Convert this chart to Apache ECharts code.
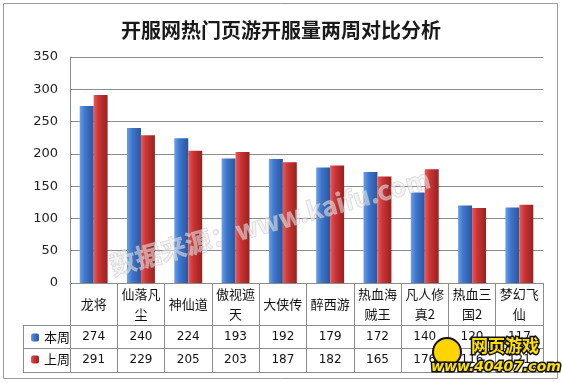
<!DOCTYPE html>
<html><head><meta charset="utf-8">
<script src="https://cdn.jsdelivr.net/npm/echarts@6/dist/echarts.min.js"></script>
<style>html,body{margin:0;padding:0;background:#fff}#c{width:562px;height:383px}</style>
</head><body><div id="c"></div>
<script>
const title = '开服网热门页游开服量两周对比分析';
const categories = ['龙将','仙落凡尘','神仙道','傲视遮天','大侠传','醉西游','热血海贼王','凡人修真2','热血三国2','梦幻飞仙'];
const seriesNames = ['本周','上周'];
const thisWeek = [274,240,224,193,192,179,172,140,120,117];
const lastWeek = [291,229,205,203,187,182,165,176,116,121];
const yMin = 0, yMax = 350, yStep = 50;

const chart = echarts.init(document.getElementById('c'));
const G = echarts.graphic;
const blueGrad = new G.LinearGradient(0,0,1,0,[{offset:0,color:'#6d9fe6'},{offset:0.35,color:'#3f78cf'},{offset:1,color:'#2a559e'}]);
const redGrad = new G.LinearGradient(0,0,1,0,[{offset:0,color:'#e65a58'},{offset:0.35,color:'#cc3535'},{offset:1,color:'#9a2020'}]);
const gridColor = '#8c8c8c';
function wrap3(s){ let out=[]; for(let i=0;i<s.length;i+=3) out.push(s.slice(i,i+3)); return out.join('\n'); }
const numFont = {fontSize:12, color:'#111', fontFamily:'DejaVu Sans'};

chart.setOption({
  backgroundColor:'#fff',
  animation:false,
  title:{text:title,left:'center',top:15,textStyle:{fontSize:20,fontWeight:'bold',color:'#1a1a1a',fontFamily:'Noto Sans CJK SC'}},
  legend:{orient:'vertical',left:26,top:326,itemWidth:8,itemHeight:8,itemGap:9,
    textStyle:{fontSize:13,color:'#111',fontFamily:'Noto Sans CJK SC'},data:seriesNames},
  grid:{left:70,right:19,top:57,bottom:100},
  xAxis:[
    {type:'category',data:categories,position:'bottom',
     axisLine:{show:true,lineStyle:{color:gridColor}},
     axisTick:{show:true,interval:0,length:89,lineStyle:{color:gridColor}},
     axisLabel:{interval:0,margin:21,verticalAlign:'middle',fontSize:13,lineHeight:20,color:'#111',fontFamily:'Noto Sans CJK SC',formatter:v=>wrap3(v)}},
    {type:'category',data:categories,position:'bottom',axisLine:{show:false},axisTick:{show:false},
     axisLabel:Object.assign({interval:0,margin:54,verticalAlign:'middle',formatter:(v,i)=>String(thisWeek[i])},numFont)},
    {type:'category',data:categories,position:'bottom',axisLine:{show:false},axisTick:{show:false},
     axisLabel:Object.assign({interval:0,margin:77,verticalAlign:'middle',formatter:(v,i)=>String(lastWeek[i])},numFont)}
  ],
  yAxis:{type:'value',min:yMin,max:yMax,interval:yStep,
    axisLine:{show:true,lineStyle:{color:gridColor}},axisTick:{show:false},
    splitLine:{lineStyle:{color:gridColor}},
    axisLabel:{fontSize:13,color:'#222',margin:12,fontFamily:'DejaVu Sans'}},
  series:[
    {name:seriesNames[0],type:'bar',xAxisIndex:0,data:thisWeek,barGap:'0%',barCategoryGap:'41%',itemStyle:{color:blueGrad}},
    {name:seriesNames[1],type:'bar',xAxisIndex:0,data:lastWeek,barGap:'0%',barCategoryGap:'41%',itemStyle:{color:redGrad}}
  ],
  graphic:[
    {type:'rect',shape:{x:3.5,y:3.5,width:554,height:375},style:{fill:'none',stroke:'#9a9a9a',lineWidth:1},silent:true,z:-1},
    {type:'line',shape:{x1:23,y1:325.5,x2:543,y2:325.5},style:{stroke:gridColor,lineWidth:1},silent:true},
    {type:'line',shape:{x1:23,y1:348.5,x2:543,y2:348.5},style:{stroke:gridColor,lineWidth:1},silent:true},
    {type:'line',shape:{x1:23,y1:372.5,x2:543,y2:372.5},style:{stroke:gridColor,lineWidth:1},silent:true},
    {type:'line',shape:{x1:23.5,y1:325,x2:23.5,y2:373},style:{stroke:gridColor,lineWidth:1},silent:true},
    {type:'text',x:270,y:222,rotation:0.27,silent:true,z:10,
     style:{text:'数据来源：www.kaifu.com',fontSize:26,fontWeight:'bold',fontFamily:'Noto Sans CJK SC',
       fill:'rgba(235,235,235,0.55)',stroke:'rgba(170,170,170,0.45)',lineWidth:1,align:'center',verticalAlign:'middle'}},
    {type:'circle',shape:{cx:447,cy:352,r:14},style:{fill:'#ffd400',stroke:'#111',lineWidth:2},z:20,silent:true},
    {type:'text',x:505,y:346,z:21,silent:true,style:{text:'网页游戏',fontSize:17,fontWeight:'bold',fontFamily:'Noto Sans CJK SC',fill:'#ffe000',stroke:'#111',lineWidth:3,align:'center',verticalAlign:'middle'}},
    {type:'text',x:496,y:367,z:21,silent:true,style:{text:'www.40407.com',fontSize:14,fontWeight:'bold',fontStyle:'italic',fontFamily:'DejaVu Sans',fill:'#ffe000',stroke:'#111',lineWidth:3,align:'center',verticalAlign:'middle'}}
  ]
});
</script></body></html>
